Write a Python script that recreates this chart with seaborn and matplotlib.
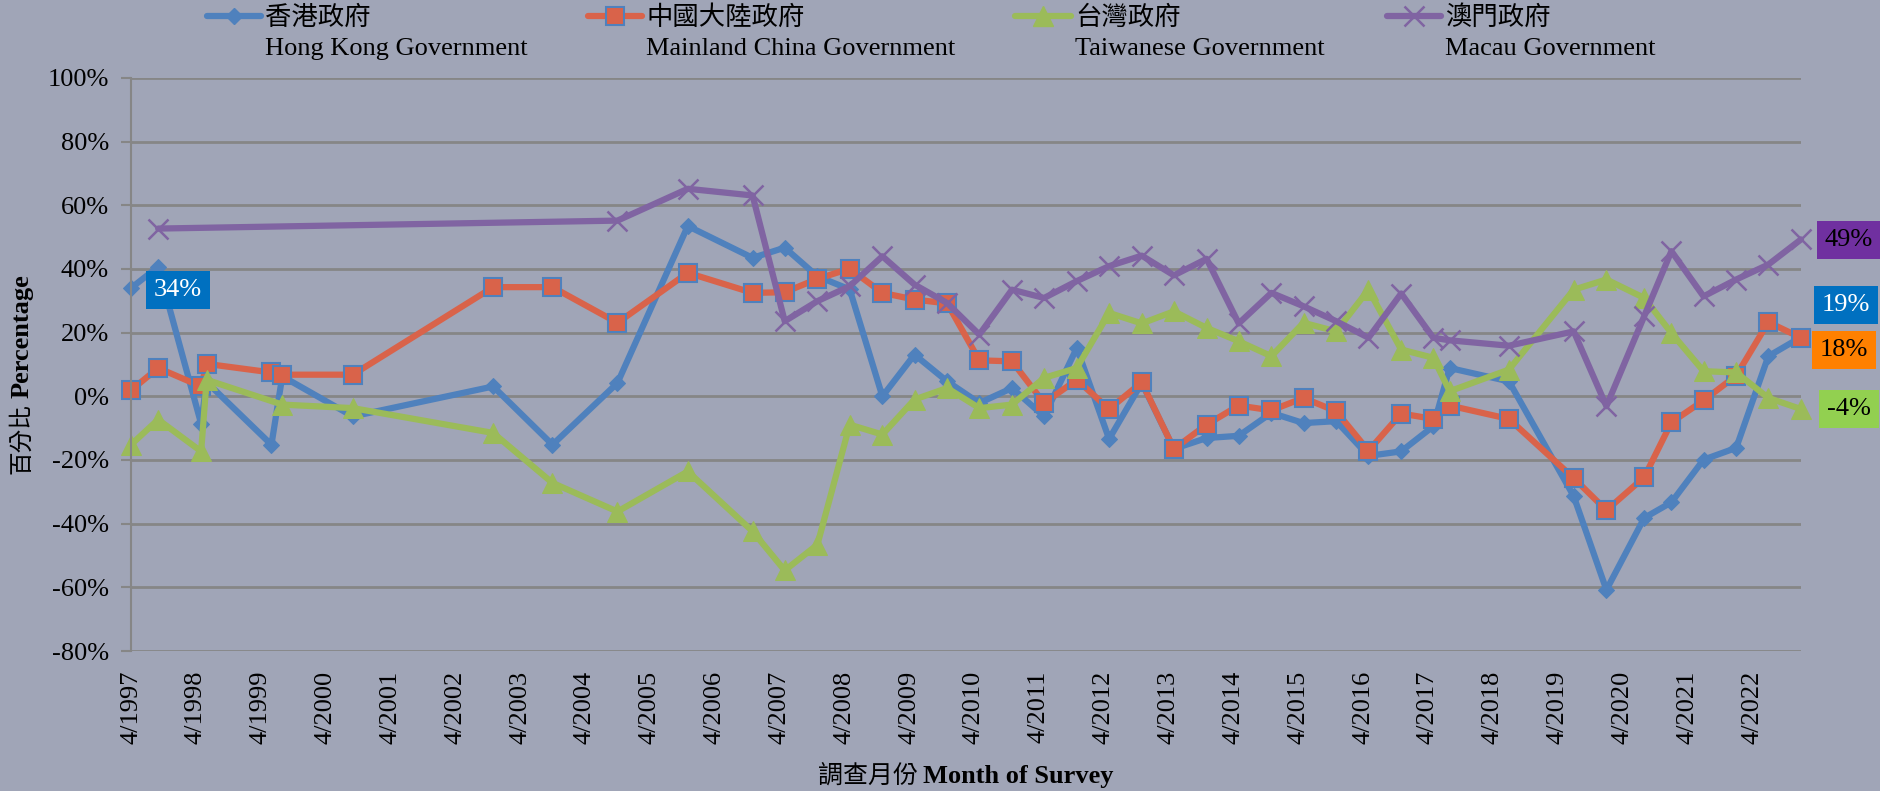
import pandas as pd
import seaborn as sns
import matplotlib.pyplot as plt
from matplotlib.lines import Line2D
from matplotlib.ticker import FuncFormatter

# survey months (x) and net values in % for each government, None = not asked that round
survey_months = ["1997-04", "1997-09", "1998-05", "1998-06", "1999-06", "1999-08", "2000-09",
                 "2002-11", "2003-10", "2004-10", "2005-11", "2006-11", "2007-05", "2007-11",
                 "2008-05", "2008-11", "2009-05", "2009-11", "2010-05", "2010-11", "2011-05",
                 "2011-11", "2012-05", "2012-11", "2013-05", "2013-11", "2014-05", "2014-11",
                 "2015-05", "2015-11", "2016-05", "2016-11", "2017-05", "2017-08", "2018-07",
                 "2019-07", "2020-01", "2020-08", "2021-01", "2021-07", "2022-01", "2022-07",
                 "2023-01"]

hk_gov = [34, 40.7, -8.6, 4.5, -15.2, 6.3, -6.3, 3.1, -15.2, 4.2, 53.5, 43.5, 46.7, 37.7,
          33.6, 0, 13.1, 4.7, -2.1, 2.6, -6.3, 15.2, -13.4, 4.2, -16.5, -13.1, -12.4, -5.2,
          -8.4, -7.8, -18.7, -17.3, -9.4, 8.9, 4.7, -31.4, -60.8, -38.2, -33.3, -19.9, -16.2,
          12.6, 18.6]
china_gov = [1.9, 8.9, 3.1, 10.2, 7.5, 6.8, 6.8, 34.3, 34.3, 23.1, 38.8, 32.5, 32.7, 36.9,
             40.1, 32.5, 30.4, 29.2, 11.3, 11, -2.1, 5.2, -4, 4.4, -16.5, -8.9, -2.9, -4.4,
             -0.5, -4.7, -17.1, -5.4, -7.1, -2.9, -7.1, -25.7, -35.8, -25.4, -8.2, -1.3, 6.5,
             23.3, 18.4]
taiwan_gov = [-15.2, -7.3, -17.3, 5.2, None, -2.6, -3.7, -11.5, -27.2, -36.2, -23.6, -42.4,
              -54.7, -46.6, -8.9, -12, -1, 2.6, -3.7, -2.6, 5.8, 8.9, 26.2, 22.9, 26.7, 21.5,
              17.3, 12.6, 23.1, 20.4, 33.5, 14.7, 12.1, 1.6, 8.4, 33.5, 36.7, 30.9, 19.9, 7.9,
              7.5, -0.5, -4]
macau_gov = [None, 52.7, None, None, None, None, None, None, None, 55.2, 65.2, 63.1, 23.6,
             29.9, 34.6, 44, 35.1, 29.3, 19.4, 33.5, 30.9, 36.2, 40.9, 44.2, 38, 43.2, 22.9,
             32.5, 28.3, 23.6, 18.4, 32.3, 18.4, 17.6, 15.9, 20.4, -3.1, 25.2, 45.6, 31.4,
             36.7, 41.4, 49.3]

names_zh = ["香港政府", "中國大陸政府", "台灣政府", "澳門政府"]
names_en = ["Hong Kong Government", "Mainland China Government",
            "Taiwanese Government", "Macau Government"]
y_ticks = [-80, -60, -40, -20, 0, 20, 40, 60, 80, 100]
tick_years = list(range(1997, 2023))

sns.set_theme(style="white")
serif = ["Liberation Serif", "Noto Sans CJK TC"]
plt.rcParams["font.family"] = serif
plt.rcParams["axes.unicode_minus"] = False
plt.rcParams["text.color"] = "black"
plt.rcParams["xtick.color"] = "black"
plt.rcParams["ytick.color"] = "black"

W, H = 1880, 791
bg = "#A0A5B7"
grid_col = "#868686"
fig = plt.figure(figsize=(W / 100, H / 100), dpi=100, facecolor=bg)
ax = fig.add_axes([131 / W, 1 - 651 / H, (1801 - 131) / W, (651 - 78) / H])
ax.set_facecolor(bg)

df = pd.DataFrame({"month": pd.to_datetime(survey_months), "hk": hk_gov,
                   "china": china_gov, "taiwan": taiwan_gov, "macau": macau_gov})
cols = ["hk", "china", "taiwan", "macau"]

styles = [
    dict(color="#4F81BD", marker="D", markersize=8, markeredgecolor="#4F81BD"),
    dict(color="#D9634A", marker="s", markersize=12.5, markeredgecolor="#4F81BD",
         markeredgewidth=1.5),
    dict(color="#9BBB59", marker="^", markersize=14, markeredgecolor="#9BBB59"),
    dict(color="#8064A2", marker="x", markersize=14, markeredgecolor="#8064A2",
         markeredgewidth=1.8),
]

for col, st in zip(cols, styles):
    d = df[["month", col]].dropna()
    sns.lineplot(data=d, x="month", y=col, ax=ax, linewidth=4.5, legend=False,
                 clip_on=False, **st)

# axes
ax.set_xlim(pd.Timestamp("1997-04-01"), pd.Timestamp("2023-01-01"))
ax.set_ylim(-80, 100)
ax.set_yticks(y_ticks)
ax.yaxis.set_major_formatter(FuncFormatter(lambda v, p: f"{int(v)}%"))
ax.set_xticks([pd.Timestamp(f"{y}-04-01") for y in tick_years])
ax.set_xticklabels([f"4/{y}" for y in tick_years], rotation=90)
ax.tick_params(axis="x", length=0, pad=14, labelsize=19)
ax.tick_params(axis="y", length=7, width=1.5, color=grid_col, pad=9, labelsize=19, left=True)
for lab in ax.get_xticklabels() + ax.get_yticklabels():
    lab.set_fontfamily(serif)
    lab.set_color("black")
ax.yaxis.grid(True, color=grid_col, linewidth=2)
ax.set_axisbelow(True)
for s in ["top", "right", "bottom"]:
    ax.spines[s].set_visible(False)
ax.spines["left"].set_color(grid_col)
ax.spines["left"].set_linewidth(1.5)
ax.set_xlabel("")
ax.set_ylabel("")

# data labels
def tag(col, idx, dx, dy, face, txt_col):
    d = df[["month", col]].dropna()
    x = d["month"].iloc[idx]
    v = d[col].iloc[idx]
    ax.annotate(f"{round(v)}%", (x, v), xytext=(dx, dy), textcoords="offset pixels",
                ha="center", va="center", fontsize=19, color=txt_col, annotation_clip=False,
                bbox=dict(boxstyle="square,pad=0.3", fc=face, ec="none"))

tag("hk", 0, 47, -2, "#0070C0", "white")
tag("macau", -1, 48, -1, "#7030A0", "black")
tag("hk", -1, 45, 32, "#0070C0", "white")
tag("china", -1, 43, -12, "#FF8000", "black")
tag("taiwan", -1, 48, 0, "#92D050", "black")

# legend drawn by hand: marker line + two-line label
legend_pos = [(207, 265), (588, 646), (1015, 1075), (1387, 1445)]
for (x0, xt), st, zh, en in zip(legend_pos, styles, names_zh, names_en):
    y = 1 - 16 / H
    xs = [x0 / W, (x0 + xt - 4) / 2 / W, (xt - 4) / W]
    fig.add_artist(Line2D(xs, [y, y, y], transform=fig.transFigure, linewidth=4.5,
                          markevery=[1], **st))
    fig.text(xt / W, 1 - 17 / H, zh, ha="left", va="center", fontsize=19,
             family=["Noto Sans CJK TC"])
    fig.text(xt / W, 1 - 49 / H, en, ha="left", va="center", fontsize=19)

# axis titles (Chinese regular + English bold)
fig.text(22 / W, 1 - 474 / H, "百分比", rotation=90, ha="center", va="bottom",
         fontsize=17, family=["Noto Sans CJK TC"])
fig.text(22 / W, 1 - 398 / H, "Percentage", rotation=90, ha="center", va="bottom",
         fontsize=19, weight="bold")
fig.text(918 / W, 1 - 776 / H, "調查月份", ha="right", va="center", fontsize=18,
         family=["Noto Sans CJK TC"])
fig.text(923 / W, 1 - 776 / H, "Month of Survey", ha="left", va="center", fontsize=19,
         weight="bold")

fig.savefig("out.png", dpi=100, facecolor=bg)
